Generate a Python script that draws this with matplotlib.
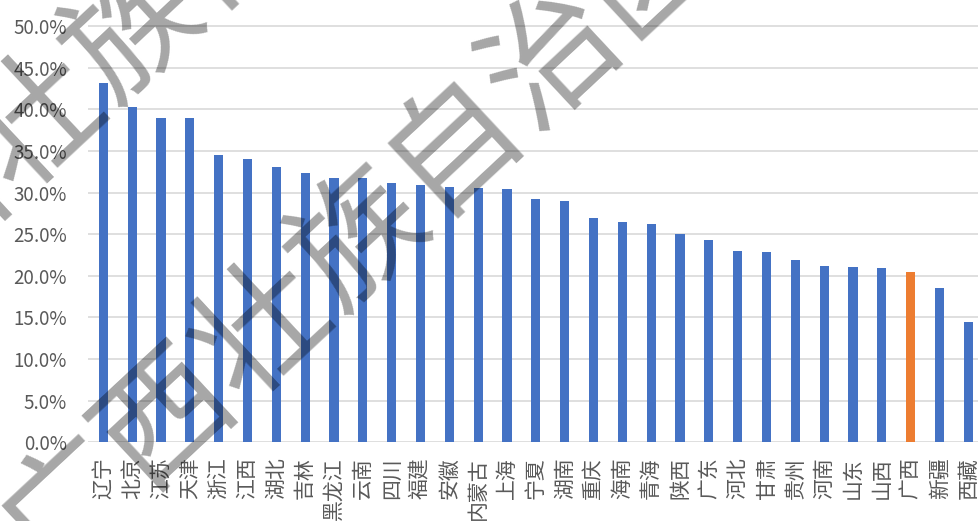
import matplotlib
matplotlib.use("Agg")
import matplotlib.pyplot as plt
from matplotlib.ticker import PercentFormatter

plt.rcParams['font.family'] = ['Noto Sans CJK SC', 'DejaVu Sans']

provinces = ['辽宁', '北京', '江苏', '天津', '浙江', '江西', '湖北', '吉林', '黑龙江', '云南',
             '四川', '福建', '安徽', '内蒙古', '上海', '宁夏', '湖南', '重庆', '海南', '青海',
             '陕西', '广东', '河北', '甘肃', '贵州', '河南', '山东', '山西', '广西', '新疆', '西藏']
shares = [43.1, 40.3, 39.0, 38.9, 34.5, 34.0, 33.1, 32.3, 31.8, 31.7,
          31.2, 30.9, 30.7, 30.6, 30.4, 29.2, 29.0, 27.0, 26.5, 26.2,
          25.0, 24.3, 23.0, 22.9, 21.9, 21.2, 21.0, 20.9, 20.5, 18.5, 14.5]
highlight = '广西'
yticks = [0, 5, 10, 15, 20, 25, 30, 35, 40, 45, 50]
watermark = '广西壮族自治区'

blue = '#4472C4'
orange = '#ED7D31'
colors = [orange if p == highlight else blue for p in provinces]

fig = plt.figure(figsize=(9.79, 5.21), dpi=100)
ax = fig.add_axes([0.0899, 0.151, 0.9101, 0.849])

x = list(range(len(provinces)))
ax.bar(x, [v / 100 for v in shares], width=0.32, color=colors, zorder=3)

ax.set_xlim(-0.53, len(provinces) - 1 + 0.37)
ax.set_ylim(0, 0.5312)
ax.set_yticks([t / 100 for t in yticks])
ax.yaxis.set_major_formatter(PercentFormatter(1.0, decimals=1))
ax.set_xticks(x)
ax.set_xticklabels(provinces, rotation=90)

ax.grid(axis='y', color='#D9D9D9', linewidth=1.2, zorder=0)
ax.set_axisbelow(True)
for s in ax.spines.values():
    s.set_visible(False)
ax.tick_params(axis='y', length=0, pad=15, labelsize=13.5, labelcolor='#595959')
ax.tick_params(axis='x', length=0, pad=11, labelsize=15, labelcolor='#595959')

# diagonal watermark
for cx, cy in [(0.369, 0.543), (0.138, 0.942)]:
    fig.text(cx, cy, watermark, fontsize=95, color='black', alpha=0.35,
             rotation=43, rotation_mode='anchor', ha='center', va='center', zorder=10)

fig.savefig('out.png', dpi=100)
plt.close(fig)
